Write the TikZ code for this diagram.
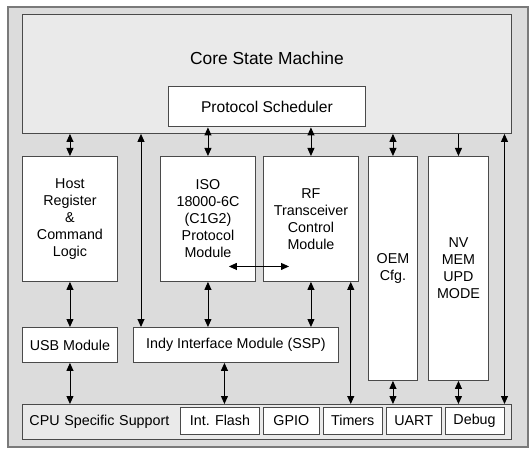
\documentclass[tikz,border=0pt]{standalone}
\usepackage{fontspec}
\setmainfont{Liberation Sans}
\usepackage{xcolor}
\usepackage{tikz}
\usetikzlibrary{
    arrows.meta,
    positioning,
    calc
}
\definecolor{chipframe}{HTML}{7A7A7A}
\definecolor{chipfill}{HTML}{DCDCDC}
\definecolor{corefill}{HTML}{EAEAEA}
\definecolor{chipline}{HTML}{4A4A4A}
\tikzset{
    % Module block
    modbox/.style={
        rectangle,
        draw=chipline,
        fill=white,
        line width=0.9pt,
        font=\fontsize{14.3}{17}\selectfont,
        align=center,
        inner sep=2pt,
        anchor=north west
    },
    % Core block
    corebox/.style={
        modbox,
        fill=corefill
    },
    % Small block in the CPU row
    cpubox/.style={
        modbox,
        minimum height=27pt,
        anchor=west
    },
    % Two-way bus arrow
    busarrow/.style={
        {Triangle[length=8pt,width=7pt]}-{Triangle[length=8pt,width=7pt]},
        line width=0.9pt,
        color=black
    },
    % One-way bus arrow
    busdown/.style={
        -{Triangle[length=8pt,width=7pt]},
        line width=0.9pt,
        color=black
    }
}

\begin{document}
\begin{tikzpicture}[x=1pt, y=-1pt]
    \useasboundingbox (0,0) rectangle (532,454);
    \node[modbox, draw=chipframe, fill=chipfill, line width=1.8pt, minimum width=520pt, minimum height=440pt] (chip) at (7,6) {};

    \node[corebox, minimum width=489pt, minimum height=119pt,
        label={[anchor=center, yshift=-44pt, font=\fontsize{17.4}{20}\selectfont]north:Core State Machine}] (core) at (22,14) {};
    \node[modbox, minimum width=197pt, minimum height=40pt, font=\fontsize{15.6}{18}\selectfont] (sched) at (168,86.5) {Protocol Scheduler};

    \node[modbox, minimum width=95pt, minimum height=125pt] (host) at (22,156) {Host\\Register\\\&\\Command\\Logic};
    \node[modbox, minimum width=95pt, minimum height=125pt] (iso) at (160,156) {ISO\\18000-6C\\(C1G2)\\Protocol\\Module};
    \node[modbox, minimum width=95pt, minimum height=125pt] (rf) at (263,156) {RF\\Transceiver\\Control\\Module};
    \node[modbox, minimum width=49pt, minimum height=224pt] (oem) at (368,156) {OEM\\Cfg.};
    \node[modbox, minimum width=60pt, minimum height=224pt] (nv) at (428,156) {NV\\MEM\\UPD\\MODE};

    \node[modbox, minimum width=95pt, minimum height=35pt] (usb) at (22,327) {USB Module};
    \node[modbox, minimum width=205pt, minimum height=35pt] (indy) at (133,327) {Indy Interface Module (SSP)};

    \node[corebox, minimum width=489pt, minimum height=35pt, text width=475pt, align=left] (cpu) at (22,404) {CPU Specific Support};
    \node[cpubox, minimum width=79pt] (flash) at (180,420.5) {Int. Flash};
    \node[cpubox, minimum width=56pt, right=3pt of flash] (gpio) {GPIO};
    \node[cpubox, minimum width=59pt, right=3pt of gpio] (timers) {Timers};
    \node[cpubox, minimum width=55pt, right=3pt of timers] (uart) {UART};
    \node[cpubox, minimum width=59pt, right=3pt of uart] (debug) {Debug};

    % core and scheduler links
    \draw[busarrow] (core.south -| host.north) -- (host.north);
    \draw[busarrow] ([xshift=8pt]indy.north west |- core.south) -- ([xshift=8pt]indy.north west);
    \draw[busarrow] (iso.north |- sched.south) -- (iso.north);
    \draw[busarrow] (rf.north |- sched.south) -- (rf.north);
    \draw[busarrow] (oem.north |- core.south) -- (oem.north);
    \draw[busdown] (nv.north |- core.south) -- (nv.north);
    \draw[busarrow] (debug.north east |- core.south) -- (debug.north east |- cpu.north);

    % module links
    \draw[busarrow] ([shift={(-27pt,-47.5pt)}]iso.east) -- ([shift={(26pt,-47.5pt)}]rf.west);
    \draw[busarrow] (host.south) -- (usb.north);
    \draw[busarrow] (iso.south) -- (iso.south |- indy.north);
    \draw[busarrow] (rf.south) -- (rf.south |- indy.north);
    \draw[busarrow] ([xshift=-2pt]timers.north |- rf.south) -- ([xshift=-2pt]timers.north |- cpu.north);

    % cpu links
    \draw[busarrow] (usb.south) -- (usb.south |- cpu.north);
    \draw[busarrow] ([xshift=-11.5pt]indy.south) -- ([xshift=-11.5pt]indy.south |- cpu.north);
    \draw[busarrow] (oem.south) -- (oem.south |- cpu.north);
    \draw[busarrow] (nv.south) -- (nv.south |- cpu.north);
\end{tikzpicture}
\end{document}
